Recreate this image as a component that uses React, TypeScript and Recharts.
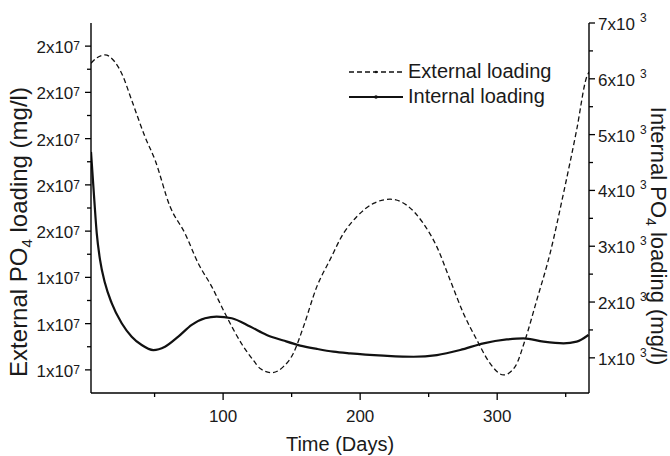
import { LineChart, Line, XAxis, YAxis } from "recharts";

// external PO4 loading (dashed, left axis, mg/l)
const extDays = [
  3.6, 8, 13.8, 21, 26, 33.3, 43, 50.3, 61.3, 72.2, 81.9, 91.7, 101.4, 113.6, 122,
  127, 135.5, 144, 151.3, 158.6, 168.4, 178, 187.8, 197.5, 209.7, 221.9, 234, 246,
  256, 265.7, 275.4, 285.1, 294.8, 304.6, 313.1, 320.4, 328.9, 338.6, 348.4, 358,
  365.4, 367,
];
const extLoad = [
  18630000, 18750000, 18810000, 18660000, 18410000, 17830000, 17040000, 16540000,
  15530000, 14950000, 14300000, 13800000, 13220000, 12560000, 12210000, 12030000,
  11940000, 12070000, 12360000, 12930000, 13800000, 14380000, 14950000, 15310000,
  15600000, 15690000, 15560000, 15170000, 14660000, 13940000, 13220000, 12650000,
  12140000, 11890000, 12070000, 12650000, 13510000, 14520000, 15820000, 17190000,
  18340000, 18440000,
];

// internal PO4 loading (solid, right axis, mg/l)
const intDays = [
  3.6, 6, 7.8, 10.2, 13.8, 18.7, 26, 33.3, 40.6, 49.1, 57.6, 67.3, 77.1, 86.8, 95.3,
  106.3, 119.7, 131.8, 144, 156.2, 168.4, 180.5, 192.7, 217, 239, 256, 273, 290, 307,
  319.2, 333.8, 348.4, 358, 366.6,
];
const intLoad = [
  4690, 3830, 3230, 2755, 2340, 1980, 1620, 1380, 1230, 1140, 1200, 1380, 1590, 1710,
  1740, 1710, 1560, 1410, 1310, 1220, 1160, 1110, 1080, 1040, 1020, 1050, 1140, 1260,
  1330, 1350, 1290, 1260, 1290, 1410,
];

const dayTicks = [50, 100, 150, 200, 250, 300, 350];
const dayLabels = [100, 200, 300];
const extTicks = [
  12000000, 12500000, 13000000, 13500000, 14000000, 14500000, 15000000, 15500000,
  16000000, 16500000, 17000000, 17500000, 18000000, 18500000, 19000000,
];
const intTicks = [1000, 1500, 2000, 2500, 3000, 3500, 4000, 4500, 5000, 5500, 6000, 6500, 7000];

const FONT = "'Liberation Sans', Arial, Helvetica, sans-serif";
const INK = "#1a1a1a";

const extData = extDays.map((d, i) => ({ day: d, ext: extLoad[i] }));
const intData = intDays.map((d, i) => ({ day: d, int: intLoad[i] }));

function BottomTick({ x, y, payload }: any) {
  const major = dayLabels.includes(payload.value);
  return (
    <g>
      <line x1={x} x2={x} y1={y} y2={y + (major ? 7 : 4)} stroke="#000" strokeWidth={1.3} />
      {major && (
        <text x={x} y={y + 29} textAnchor="middle" fontSize={17} fontFamily={FONT} fill={INK}>
          {payload.value}
        </text>
      )}
    </g>
  );
}

function TopTick({ x, y, payload }: any) {
  const major = dayLabels.includes(payload.value);
  return <line x1={x} x2={x} y1={y} y2={y + (major ? 7 : 4)} stroke="#000" strokeWidth={1.3} />;
}

function LeftTick({ x, y, payload }: any) {
  const major = payload.value % 1000000 === 0;
  return (
    <g>
      <line x1={x - (major ? 6 : 4)} x2={x} y1={y} y2={y} stroke="#000" strokeWidth={1.3} />
      {major && (
        <text x={x - 11} y={y + 7} textAnchor="end" fontSize={17} fontFamily={FONT} fill={INK}>
          {Math.round(payload.value / 1e7)}x10
          <tspan fontSize={12} dy={-3}>7</tspan>
        </text>
      )}
    </g>
  );
}

function RightTick({ x, y, payload }: any) {
  const major = payload.value % 1000 === 0;
  return (
    <g>
      <line x1={x} x2={x + (major ? 6 : 4)} y1={y} y2={y} stroke="#000" strokeWidth={1.3} />
      {major && (
        <text x={x + 9} y={y + 7} textAnchor="start" fontSize={17} fontFamily={FONT} fill={INK}>
          {payload.value / 1000}x10
          <tspan fontSize={12} dx={5} dy={-8}>3</tspan>
        </text>
      )}
    </g>
  );
}

const axisLine = { stroke: "#000", strokeWidth: 1.4 };

export default function App() {
  return (
    <div style={{ position: "absolute", left: 0, top: 0, width: 670, height: 456, background: "#fff" }}>
      <LineChart width={670} height={456} margin={{ top: 23, right: 0, bottom: 0, left: 0 }}>
        <XAxis
          xAxisId="bottom"
          dataKey="day"
          type="number"
          domain={[3.6, 367]}
          ticks={dayTicks}
          interval={0}
          height={63}
          tickSize={0}
          tickMargin={0}
          tickLine={false}
          axisLine={axisLine}
          tick={<BottomTick />}
          allowDataOverflow
        />
        <XAxis
          xAxisId="top"
          orientation="top"
          dataKey="day"
          type="number"
          domain={[3.6, 367]}
          ticks={dayTicks}
          interval={0}
          height={0}
          tickSize={0}
          tickMargin={0}
          tickLine={false}
          axisLine={axisLine}
          tick={<TopTick />}
          allowDataOverflow
        />
        <YAxis
          yAxisId="left"
          type="number"
          domain={[11500000, 19500000]}
          ticks={extTicks}
          interval={0}
          width={91}
          tickSize={0}
          tickMargin={0}
          tickLine={false}
          axisLine={axisLine}
          tick={<LeftTick />}
          allowDataOverflow
        />
        <YAxis
          yAxisId="right"
          orientation="right"
          type="number"
          domain={[370, 7000]}
          ticks={intTicks}
          interval={0}
          width={81}
          tickSize={0}
          tickMargin={0}
          tickLine={false}
          axisLine={axisLine}
          tick={<RightTick />}
          allowDataOverflow
        />
        <Line
          data={extData}
          xAxisId="bottom"
          yAxisId="left"
          dataKey="ext"
          type="monotone"
          stroke="#111"
          strokeWidth={1.3}
          strokeDasharray="5 3"
          dot={false}
          isAnimationActive={false}
        />
        <Line
          data={intData}
          xAxisId="bottom"
          yAxisId="right"
          dataKey="int"
          type="monotone"
          stroke="#111"
          strokeWidth={2.2}
          dot={false}
          isAnimationActive={false}
        />
      </LineChart>

      <svg
        width={670}
        height={456}
        style={{ position: "absolute", left: 0, top: 0, pointerEvents: "none" }}
        fontFamily={FONT}
        fill={INK}
      >
        <text transform="translate(27,232) rotate(-90)" textAnchor="middle" fontSize={24}>
          External PO
          <tspan fontSize={15} dy={5}>4</tspan>
          <tspan dy={-5}> loading (mg/l)</tspan>
        </text>
        <text transform="translate(651,236) rotate(90)" textAnchor="middle" fontSize={22}>
          Internal PO
          <tspan fontSize={14} dy={5}>4</tspan>
          <tspan dy={-5}> loading (mg/l)</tspan>
        </text>
        <text x={340} y={451} textAnchor="middle" fontSize={20}>
          Time (Days)
        </text>

        <line x1={349} x2={403} y1={72} y2={72} stroke="#111" strokeWidth={1.3} strokeDasharray="5 3" />
        <circle cx={376} cy={72} r={1.3} fill="#111" />
        <text x={408} y={78} fontSize={20}>External loading</text>
        <line x1={349} x2={403} y1={97} y2={97} stroke="#111" strokeWidth={2.2} />
        <circle cx={376} cy={97} r={1.8} fill="#111" />
        <text x={408} y={103} fontSize={20}>Internal loading</text>
      </svg>
    </div>
  );
}
